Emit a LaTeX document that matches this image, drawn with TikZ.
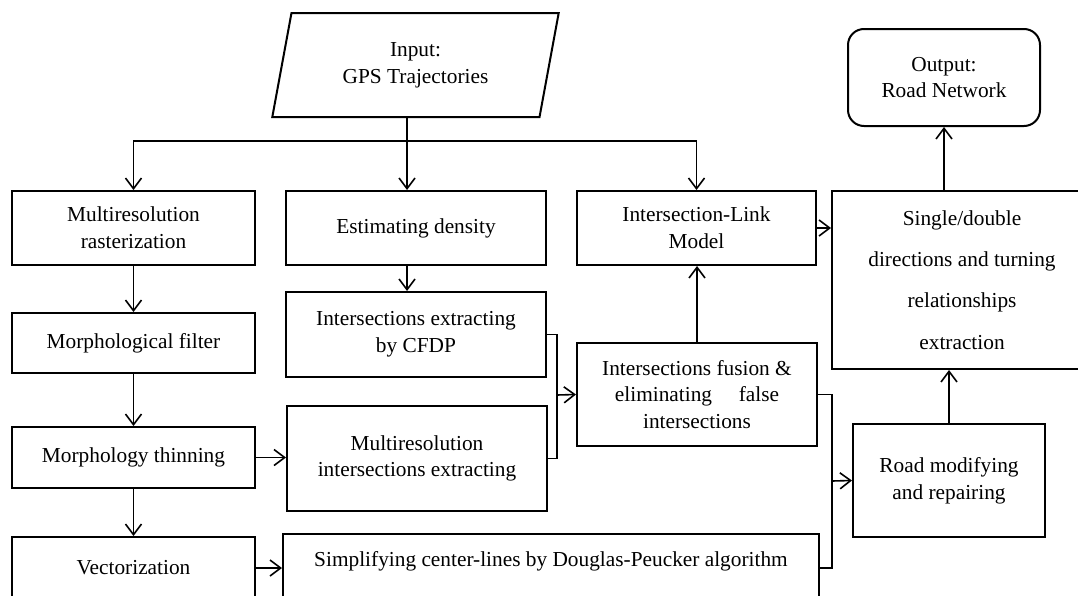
\documentclass[tikz,border=0pt]{standalone}
\usepackage{fontspec}
\setmainfont{Liberation Serif}
\usetikzlibrary{arrows.meta, shapes.geometric}

\begin{document}
\begin{tikzpicture}[
  x=0.75pt, y=-0.75pt,
  >={Straight Barb[length=8pt,width=12pt]},
  box/.style={draw, line width=1.5pt, align=center, inner sep=2pt, font=\fontsize{16}{20}\selectfont},
  link/.style={->, line width=1.2pt},
  wire/.style={line width=1.2pt},
]
\useasboundingbox (0,0) rectangle (1078,596);

\node[box, trapezium, trapezium stretches, trapezium left angle=77, trapezium right angle=103, minimum width=215pt, minimum height=78pt] (input) at (415.5,65) {Input:\\GPS Trajectories};
\node[box, rounded corners=12pt, minimum width=144pt, minimum height=72.75pt] (output) at (944,77.5) {Output:\\Road Network};

\node[box, minimum width=182.25pt, minimum height=55.5pt] (raster) at (133.5,228) {Multiresolution\\rasterization};
\node[box, minimum width=182.25pt, minimum height=45pt] (filter) at (133.5,343) {Morphological filter};
\node[box, minimum width=182.25pt, minimum height=45.75pt] (thinning) at (133.5,457.5) {Morphology thinning};
\node[box, minimum width=182.25pt, minimum height=46.5pt] (vector) at (133.5,568) {Vectorization};

\node[box, minimum width=195pt, minimum height=55.5pt] (density) at (416,228) {Estimating density};
\node[box, minimum width=195pt, minimum height=63.75pt] (cfdp) at (416,334.5) {Intersections extracting\\by CFDP};
\node[box, minimum width=195pt, minimum height=78.75pt] (multires) at (417,458.5) {Multiresolution\\intersections extracting};
\node[box, anchor=north, minimum width=402pt, inner ysep=13pt, text depth=40pt] (simplify) at (551,533) {Simplifying center-lines by Douglas-Peucker algorithm};

\node[box, minimum width=179.25pt, minimum height=55.5pt] (linkmodel) at (696.5,228) {Intersection-Link\\Model};
\node[box, minimum width=180pt, minimum height=77.25pt] (fusion) at (697,394.5) {Intersections fusion \&\\eliminating\hspace{1em} false\\intersections};

\node[box, minimum width=195pt, minimum height=133.5pt, font=\fontsize{16}{31}\selectfont] (single) at (962,280) {Single/double\\directions and turning\\relationships\\extraction};
\node[box, minimum width=144pt, minimum height=84.75pt] (road) at (949,480.5) {Road modifying\\and repairing};

\coordinate (split) at (407,141);
\coordinate (merge) at (557,395);
\coordinate (join) at (832,481);

\draw[link] (input.south -| split) -- (density.north -| split);
\draw[link] (split) -| (raster.north);
\draw[link] (split) -| (linkmodel.north);
\draw[link] (density.south -| split) -- (cfdp.north -| split);
\draw[link] (raster) -- (filter);
\draw[link] (filter) -- (thinning);
\draw[link] (thinning) -- (vector);
\draw[link] (thinning.east) -- (thinning.east -| multires.west);
\draw[link] (vector.east) -- (vector.east -| simplify.west);
\draw[wire] (cfdp.east) -| (merge) |- (multires.east);
\draw[link] (merge) -- (fusion.west);
\draw[link] (fusion.north) -- (fusion.north |- linkmodel.south);
\draw[link] (linkmodel.east) -- (linkmodel.east -| single.west);
\draw[wire] (fusion.east) -| (join) |- (vector.east -| simplify.east);
\draw[link] (join) -- (road.west);
\draw[link] (road.north) -- (road.north |- single.south);
\draw[link] (output.south |- single.north) -- (output.south);
\end{tikzpicture}
\end{document}
